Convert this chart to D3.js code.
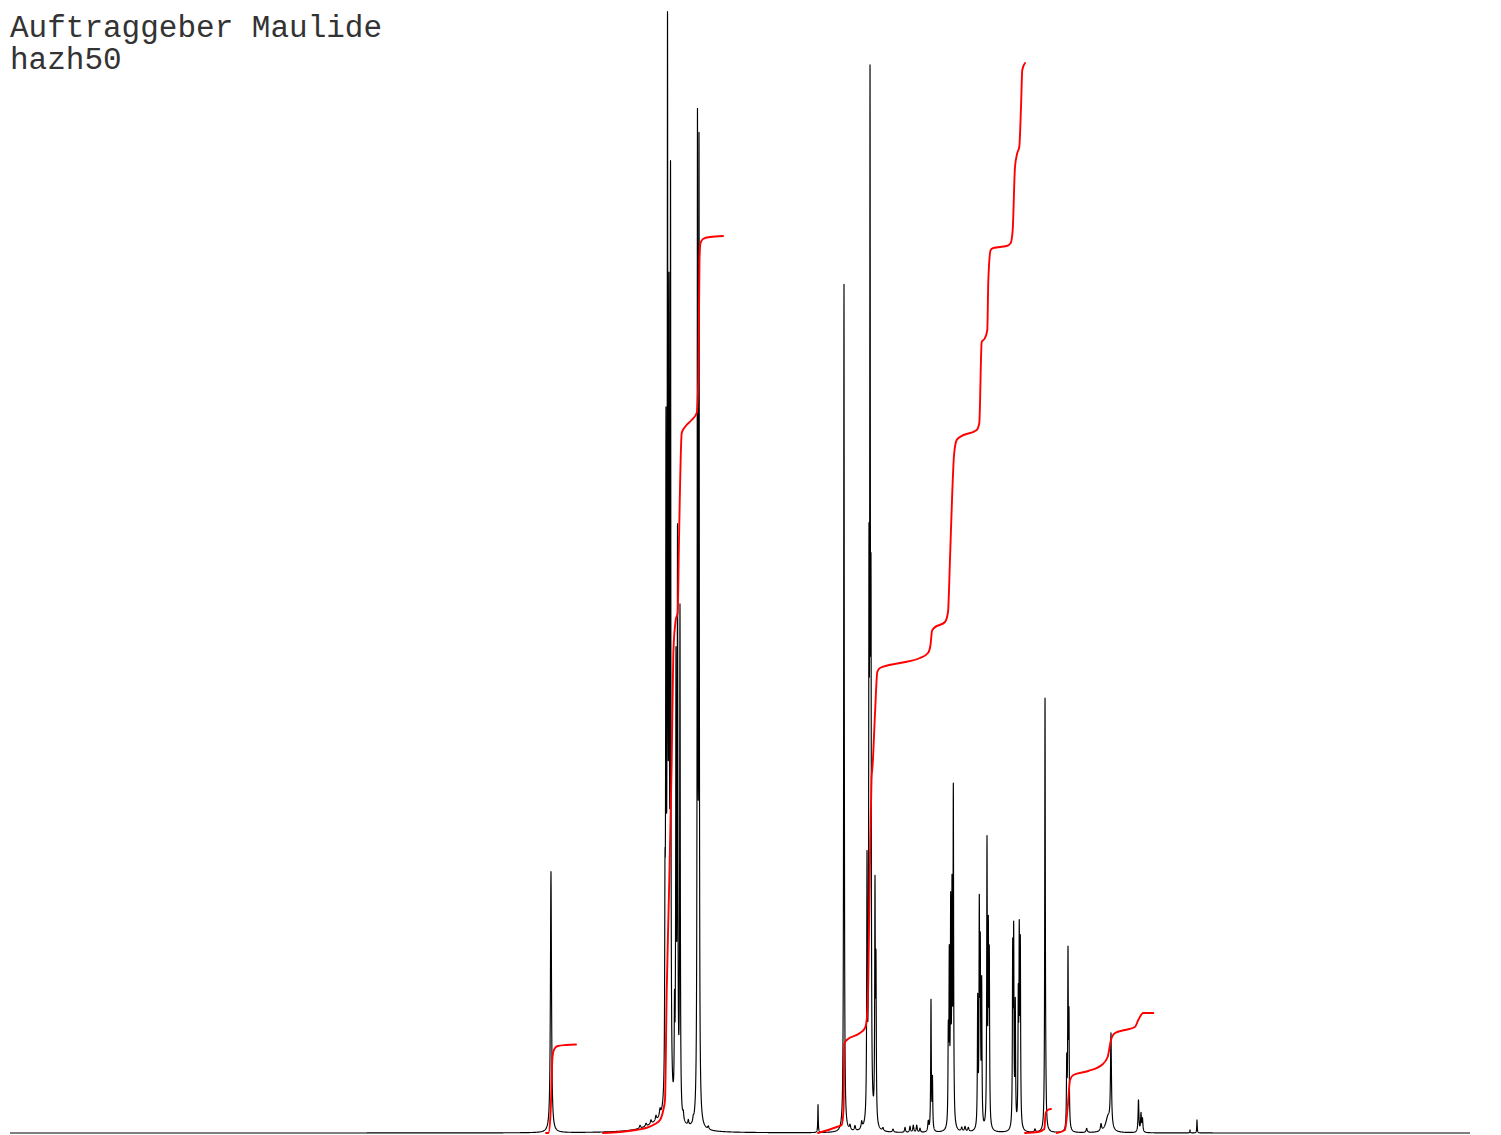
<!DOCTYPE html>
<html>
<head>
<meta charset="utf-8">
<script src="https://cdn.jsdelivr.net/npm/d3@7"></script>
<style>
  body { margin: 0; background: #fff; }
  svg { display: block; }
</style>
</head>
<body>
<svg id="chart"></svg>
<script>
const width = 1501, height = 1135;

// title lines
const titleLines = ["Auftraggeber Maulide", "hazh50"];

// peak list: shift (ppm), height (rel. intensity), half width (ppm)
const peakShift = [
  9.229,
  7.643, 7.957, 7.871, 7.800, 7.729, 7.671,
  7.600, 7.586, 7.564, 7.543, 7.521, 7.464, 7.443, 7.421, 7.386,
  7.339, 7.267, 7.196, 7.136, 7.114, 6.981,
  5.414, 5.043, 4.957, 4.886, 4.790,
  4.714, 4.686, 4.671, 4.657, 4.600, 4.586,
  4.486, 4.343, 4.171, 4.100, 4.053, 4.004, 3.957, 3.839,
  3.800, 3.779,
  3.553, 3.539, 3.519, 3.500, 3.481,
  3.361, 3.314, 3.267,
  3.133, 3.110, 3.096, 3.076,
  3.000, 2.981, 2.967,
  2.633, 2.619, 2.596, 2.553, 2.539, 2.524,
  2.314, 2.171, 2.160,
  1.861, 1.843, 1.829,
  1.576, 1.371, 1.271, 1.229,
  0.836, 0.800, 0.779,
  0.100, 0.000
];
const peakHeight = [
  26.1,
  1.0, 0.3, 0.3, 0.4, 0.5, 0.7,
  17, 63, 102.4, 74, 90.5, 9, 43.5, 56.5, 50.5,
  0.7, 0.5, 0.4, 97.5, 95, 0.3,
  2.8, 84.8, 0.5, 0.5, 0.7,
  25, 49, 96.3, 45, 23, 15,
  0.3, 0.3, 0.5, 0.6, 0.7, 0.7, 0.4, 1.0,
  13, 5,
  8.6, 16, 21, 22, 33,
  0.4, 0.5, 0.4,
  12.5, 21, 16.5, 14,
  28, 18, 16,
  17, 18.5, 12, 12, 18, 17.5,
  0.3, 43, 2,
  6.5, 17, 10.5,
  0.4, 0.7, 1.5, 9.3,
  3.2, 1.8, 1.3,
  0.3, 1.3
];
const peakWidth = [
  0.009,
  0.25, 0.01, 0.01, 0.01, 0.01, 0.01,
  0.005, 0.005, 0.005, 0.005, 0.005, 0.005, 0.005, 0.005, 0.005,
  0.008, 0.008, 0.008, 0.005, 0.005, 0.01,
  0.004, 0.005, 0.01, 0.01, 0.01,
  0.005, 0.005, 0.005, 0.005, 0.005, 0.005,
  0.01, 0.01, 0.008, 0.008, 0.008, 0.008, 0.008, 0.008,
  0.005, 0.005,
  0.005, 0.005, 0.005, 0.005, 0.005,
  0.01, 0.01, 0.01,
  0.005, 0.005, 0.005, 0.005,
  0.005, 0.005, 0.005,
  0.005, 0.005, 0.005, 0.005, 0.005, 0.005,
  0.01, 0.005, 0.006,
  0.005, 0.005, 0.005,
  0.01, 0.01, 0.04, 0.008,
  0.007, 0.007, 0.007,
  0.004, 0.004
];

// integral curves: [ppm, integral value]
const integralA = [
  [9.300, 0], [9.264, 0], [9.236, 1.8], [9.221, 4.8], [9.210, 7.3], [9.196, 8.1],
  [9.171, 8.5], [9.129, 8.7], [9.014, 8.8], [8.871, 8.85]
];
const integralB = [
  [8.486, 0], [8.243, 0.1], [8.014, 0.3], [7.871, 0.5], [7.743, 0.9], [7.671, 1.3],
  [7.624, 2.3], [7.600, 3.3], [7.576, 14.0], [7.543, 24.0], [7.504, 37.3], [7.481, 48.0],
  [7.447, 51.3], [7.419, 52.0], [7.400, 59.3], [7.361, 70.0], [7.314, 70.6], [7.219, 71.3],
  [7.147, 72.0], [7.124, 75.3], [7.107, 87.3], [7.093, 89.0], [7.057, 89.4], [6.957, 89.6],
  [6.771, 89.7]
];
const integralC = [
  [5.414, 0], [5.147, 0.6], [5.076, 0.8], [5.050, 2.3], [5.039, 8.9], [5.004, 9.3],
  [4.814, 10.0], [4.743, 10.5], [4.719, 11.3], [4.696, 15.2], [4.671, 27.7], [4.650, 35.3],
  [4.633, 36.9], [4.600, 41.9], [4.567, 46.1], [4.529, 46.5], [4.243, 47.0], [3.957, 47.5],
  [3.843, 48.0], [3.807, 48.8], [3.786, 50.2], [3.757, 50.5], [3.600, 51.1], [3.557, 52.1],
  [3.529, 57.3], [3.500, 63.3], [3.471, 67.8], [3.433, 69.3], [3.386, 69.6], [3.147, 70.3],
  [3.110, 71.0], [3.076, 79.1], [3.029, 79.5], [2.996, 80.3], [2.981, 85.3], [2.947, 88.3],
  [2.910, 88.5], [2.719, 88.7], [2.661, 89.0], [2.633, 90.3], [2.600, 96.6], [2.567, 98.0],
  [2.539, 98.6], [2.514, 102.6], [2.496, 106.3], [2.457, 107.0]
];
const integralD = [
  [2.457, 0], [2.271, 0.1], [2.181, 0.4], [2.161, 2.0], [2.133, 2.3], [2.086, 2.4]
];
const integralE = [
  [2.004, 0], [1.886, 0.3], [1.847, 2.6], [1.814, 5.3], [1.767, 5.8], [1.553, 6.2],
  [1.361, 6.8], [1.276, 7.6], [1.229, 9.3], [1.171, 10.0], [1.029, 10.3], [0.886, 10.6],
  [0.839, 11.3], [0.767, 12.0], [0.624, 12.0]
];
const integrals = [integralA, integralB, integralC, integralD, integralE];

const svg = d3.select("#chart").attr("width", width).attr("height", height);

const x = d3.scaleLinear().domain([16.957, -3.9]).range([10, 1470]);
const y = d3.scaleLinear().domain([0, 112.3]).range([1133, 10]);

// sample positions: a fine grid plus dense points around each line
const shifts = d3.range(10, 1470.01, 0.5).map(px => x.invert(px));
peakShift.forEach((c, i) => {
  for (let k = -24; k <= 24; k++) shifts.push(c + k * peakWidth[i] * 0.25);
});
shifts.sort((a, b) => b - a);

// lorentzian line shape for each peak
const trace = shifts
  .filter(p => p <= 16.957 && p >= -3.9)
  .map(p => [p, d3.sum(peakShift, (c, i) => {
    const w2 = peakWidth[i] * peakWidth[i];
    return peakHeight[i] * w2 / (w2 + (p - c) * (p - c));
  })]);

const line = d3.line()
  .x(d => x(d[0]))
  .y(d => y(d[1]));

svg.append("path")
  .datum(trace)
  .attr("fill", "none")
  .attr("stroke", "#000")
  .attr("stroke-width", 1.15)
  .attr("stroke-linejoin", "round")
  .attr("d", line);

const integralLine = d3.line()
  .curve(d3.curveMonotoneX)
  .x(d => x(d[0]))
  .y(d => y(d[1]));

svg.selectAll(".integral")
  .data(integrals)
  .join("path")
  .attr("class", "integral")
  .attr("fill", "none")
  .attr("stroke", "#ff0000")
  .attr("stroke-width", 1.9)
  .attr("stroke-linecap", "round")
  .attr("d", integralLine);

svg.selectAll(".title")
  .data(titleLines)
  .join("text")
  .attr("class", "title")
  .attr("x", 10)
  .attr("y", (d, i) => 37 + i * 32)
  .attr("font-family", "'Liberation Mono', monospace")
  .attr("font-size", 31)
  .attr("fill", "#333")
  .text(d => d);
</script>
</body>
</html>
